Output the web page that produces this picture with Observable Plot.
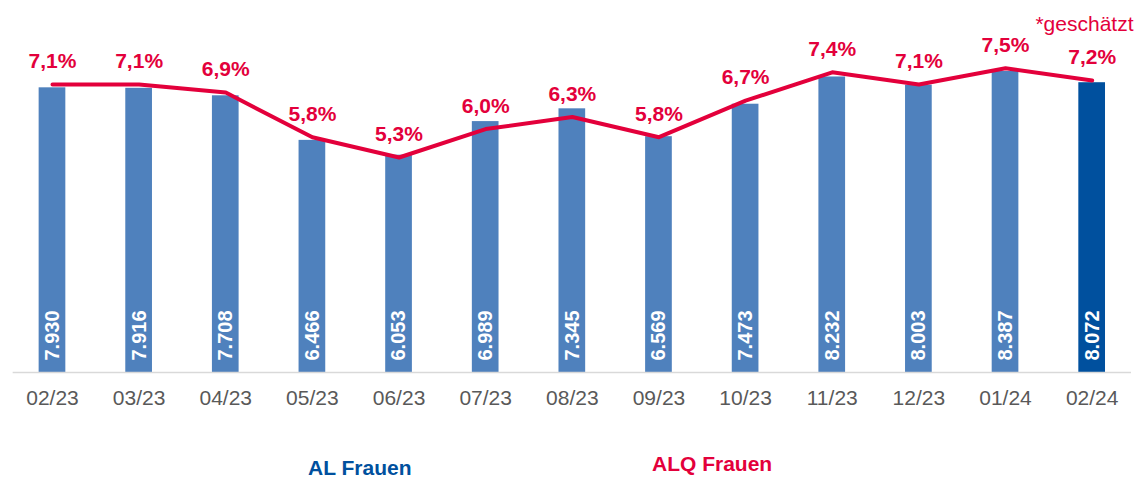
<!DOCTYPE html>
<html>
<head>
<meta charset="utf-8">
<script src="https://cdn.jsdelivr.net/npm/d3@7"></script>
<script src="https://cdn.jsdelivr.net/npm/@observablehq/plot@0.6"></script>
<style>
  html, body { margin: 0; padding: 0; background: #fff; overflow: hidden; }
  body { font-family: "Liberation Sans", Arial, sans-serif; }
  #legend { position: relative; width: 1136px; height: 37px; }
  #legend span { position: absolute; font-size: 21px; line-height: 16px; font-weight: bold; white-space: nowrap; }
</style>
</head>
<body>
<div id="chart"></div>
<div id="legend">
  <span style="left:308px; top:20px; color:#00509e;">AL Frauen</span>
  <span style="left:652px; top:16px; color:#e3003b;">ALQ Frauen</span>
</div>
<script>
const months = ["02/23","03/23","04/23","05/23","06/23","07/23","08/23","09/23","10/23","11/23","12/23","01/24","02/24"];
const alFrauen = [7930, 7916, 7708, 6466, 6053, 6989, 7345, 6569, 7473, 8232, 8003, 8387, 8072];
const alqFrauen = [7.1, 7.1, 6.9, 5.8, 5.3, 6.0, 6.3, 5.8, 6.7, 7.4, 7.1, 7.5, 7.2];
const estimated = [false, false, false, false, false, false, false, false, false, false, false, false, true];

// secondary axis: rate (%) mapped onto the count scale
const rateFactor = 1130;

const data = months.map((m, i) => ({
  month: m,
  al: alFrauen[i],
  alq: alqFrauen[i],
  alqY: alqFrauen[i] * rateFactor,
  est: estimated[i]
}));

const red = "#e3003b";
const fmtInt = v => d3.format(",")(v).replace(/,/g, ".");
const fmtPct = v => v.toFixed(1).replace(".", ",") + "%";

const chart = Plot.plot({
  width: 1136,
  height: 440,
  marginLeft: 12.65,
  marginRight: 5,
  marginTop: 13,
  marginBottom: 68,
  style: { fontFamily: "'Liberation Sans', Arial, sans-serif", background: "#fff" },
  x: { domain: months, paddingInner: 0.692, paddingOuter: 0.3, round: false, axis: null, label: null },
  y: { domain: [0, 10000], axis: null },
  marks: [
    Plot.barY(data, { x: "month", y: "al", fill: d => d.est ? "#00509e" : "#4f81bd" }),
    Plot.ruleY([0], { stroke: "#d9d9d9", strokeWidth: 1.5 }),
    Plot.axisX({ tickSize: 0, tickPadding: 18, fontSize: 21, color: "#595959", label: null }),
    Plot.text(data, {
      x: "month", y: 0, text: d => fmtInt(d.al), rotate: -90,
      textAnchor: "start", lineAnchor: "middle", dy: -12,
      fill: "#fff", fontSize: 20, fontWeight: "bold"
    }),
    Plot.line(data, { x: "month", y: "alqY", stroke: red, strokeWidth: 4 }),
    Plot.text(data, {
      x: "month", y: "alqY", text: d => fmtPct(d.alq), dy: -23,
      lineAnchor: "middle", fill: red, fontSize: 21, fontWeight: "bold"
    }),
    Plot.text(["*geschätzt"], {
      frameAnchor: "top-right", lineAnchor: "top", dx: 2, dy: 3,
      fill: red, fontSize: 21
    })
  ]
});
document.getElementById("chart").appendChild(chart);
</script>
</body>
</html>
